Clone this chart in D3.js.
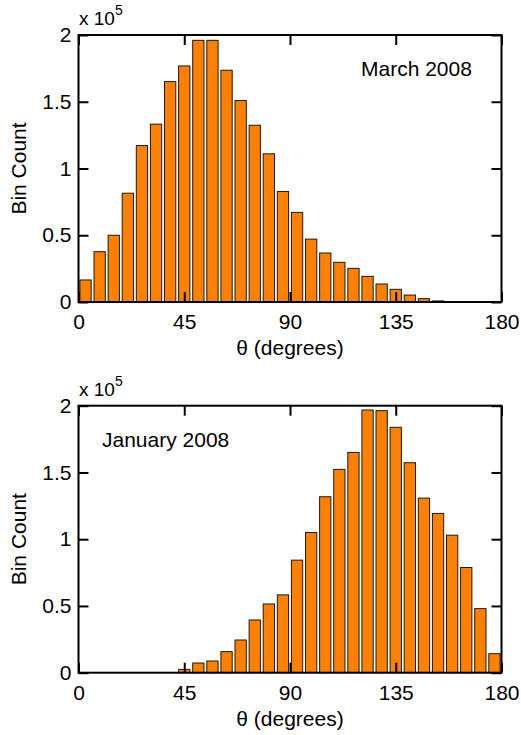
<!DOCTYPE html>
<html>
<head>
<meta charset="utf-8">
<script src="https://cdn.jsdelivr.net/npm/d3@7"></script>
<style>
  body { margin: 0; background: #fff; }
  text { font-family: "Liberation Sans", Arial, sans-serif; fill: #000; }
</style>
</head>
<body>
<script>
//==============================================================================
// data (bin centers in degrees, counts per 6 degree bin)

var binCenters = [3, 9, 15, 21, 27, 33, 39, 45, 51, 57, 63, 69, 75, 81, 87,
                  93, 99, 105, 111, 117, 123, 129, 135, 141, 147, 153, 159, 165, 171, 177];
var binWidth = 6;

var marchCounts = [16500, 37700, 50000, 81500, 117200, 133200, 165100, 176800, 196000, 196000,
                   173600, 150900, 132400, 111000, 82800, 67100, 47100, 36700, 29700, 25200,
                   19200, 13500, 9500, 5200, 2500, 800, 0, 0, 0, 0];

var januaryCounts = [0, 0, 0, 0, 0, 0, 0, 2500, 7250, 8750,
                     15800, 24500, 39500, 51500, 58300, 84300, 105000, 131800, 152300, 165000,
                     196800, 196300, 183800, 157300, 130800, 119300, 103000, 78800, 48000, 14250];

var xTicks = [0, 45, 90, 135, 180];
var yTicks = [0, 50000, 100000, 150000, 200000];

var panels = [
    { label: "March 2008", counts: marchCounts, top: 35, labelX: 361 },
    { label: "January 2008", counts: januaryCounts, top: 405.7, labelX: 102 }
];

//==============================================================================

var totalWidth = 521;
var totalHeight = 735;
var plotLeft = 78.5, plotRight = 501.5, plotHeight = 267;
var barColor = "#ff8000";

var svg = d3.select("body").append("svg")
    .attr("width", totalWidth)
    .attr("height", totalHeight);

svg.append("rect").attr("width", totalWidth).attr("height", totalHeight).attr("fill", "#fff");

var x = d3.scaleLinear().domain([0, 180]).range([plotLeft, plotRight]);

function drawPanel(p) {
    var y = d3.scaleLinear().domain([0, 200000]).range([p.top + plotHeight, p.top]);
    var g = svg.append("g");

    // bars
    g.selectAll("rect.bar")
        .data(p.counts)
        .enter().append("rect")
        .attr("class", "bar")
        .attr("x", function(d, i) { return x(binCenters[i] - binWidth * 0.4); })
        .attr("width", function(d, i) { return x(binCenters[i] + binWidth * 0.4) - x(binCenters[i] - binWidth * 0.4); })
        .attr("y", function(d) { return y(d); })
        .attr("height", function(d) { return y(0) - y(d); })
        .attr("fill", barColor)
        .attr("stroke", function(d) { return d > 0 ? "#1a1a1a" : "none"; })
        .attr("stroke-width", 1);

    // axes with inward ticks
    var bottom = g.append("g")
        .attr("transform", "translate(0," + y(0) + ")")
        .call(d3.axisBottom(x).tickValues(xTicks).tickSizeInner(-10).tickSizeOuter(0).tickPadding(12));
    var top = g.append("g")
        .attr("transform", "translate(0," + y(200000) + ")")
        .call(d3.axisTop(x).tickValues(xTicks).tickSizeInner(-10).tickSizeOuter(0).tickFormat(""));
    var left = g.append("g")
        .attr("transform", "translate(" + plotLeft + ",0)")
        .call(d3.axisLeft(y).tickValues(yTicks).tickSizeInner(-10).tickSizeOuter(0).tickPadding(7)
            .tickFormat(function(d) { return d / 100000; }));
    var right = g.append("g")
        .attr("transform", "translate(" + plotRight + ",0)")
        .call(d3.axisRight(y).tickValues(yTicks).tickSizeInner(-10).tickSizeOuter(0).tickFormat(""));

    [bottom, top, left, right].forEach(function(a) {
        a.select(".domain").remove();
        a.selectAll(".tick line").attr("stroke", "#000").attr("stroke-width", 2);
        a.selectAll(".tick text").style("font-size", "21px").attr("fill", "#000");
    });

    // box
    g.append("rect")
        .attr("x", plotLeft).attr("y", p.top)
        .attr("width", plotRight - plotLeft).attr("height", plotHeight)
        .attr("fill", "none").attr("stroke", "#000").attr("stroke-width", 2);

    // exponent label
    var ex = g.append("text").attr("x", plotLeft + 0.5).attr("y", p.top - 10)
        .style("font-size", "19px");
    ex.append("tspan").text("x 10");
    ex.append("tspan").attr("dy", -10).style("font-size", "14px").text("5");

    // axis titles
    g.append("text")
        .attr("transform", "translate(25.5," + (p.top + plotHeight / 2) + ") rotate(-90)")
        .attr("text-anchor", "middle")
        .style("font-size", "21px")
        .text("Bin Count");
    g.append("text")
        .attr("x", (plotLeft + plotRight) / 2).attr("y", p.top + 320)
        .attr("text-anchor", "middle")
        .style("font-size", "21px")
        .text("θ (degrees)");

    g.append("text")
        .attr("x", p.labelX).attr("y", p.top + 41)
        .style("font-size", "21px")
        .text(p.label);
}

panels.forEach(drawPanel);
</script>
</body>
</html>
